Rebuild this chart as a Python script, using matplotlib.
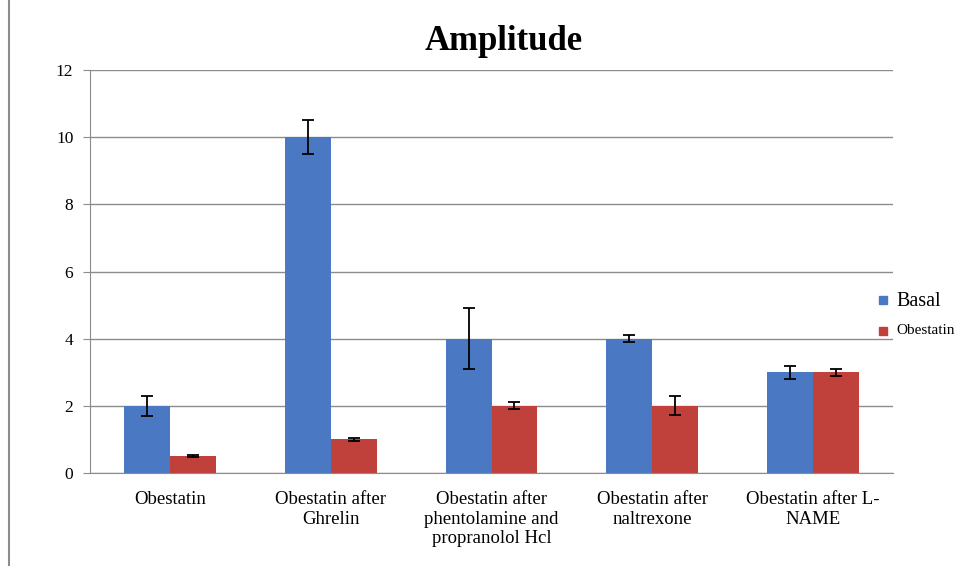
import matplotlib
matplotlib.use('Agg')
import matplotlib.pyplot as plt
import numpy as np
from matplotlib.lines import Line2D

plt.rcParams['font.family'] = ['Liberation Serif', 'DejaVu Serif']

categories = ['Obestatin', 'Obestatin after\nGhrelin',
              'Obestatin after\nphentolamine and\npropranolol Hcl',
              'Obestatin after\nnaltrexone', 'Obestatin after L-\nNAME']
basal = [2, 10, 4, 4, 3]
basal_err = [0.3, 0.5, 0.9, 0.1, 0.2]
obestatin = [0.5, 1, 2, 2, 3]
obestatin_err = [0.03, 0.05, 0.1, 0.28, 0.1]

fig = plt.figure(figsize=(9.74, 5.71), dpi=100)
ax = fig.add_axes([90 / 974, 1 - 473 / 571, 803 / 974, 403 / 571])

x = np.arange(len(categories))
w = 0.286
ax.bar(x - w / 2, basal, w, color='#4a78c2', label='Basal', zorder=2,
       yerr=basal_err, error_kw=dict(ecolor='black', elinewidth=1.3, capsize=4, capthick=1.3))
ax.bar(x + w / 2, obestatin, w, color='#c0403c', label='Obestatin', zorder=2,
       yerr=obestatin_err, error_kw=dict(ecolor='black', elinewidth=1.3, capsize=4, capthick=1.3))

ax.set_xlim(-0.5, len(categories) - 0.5)
ax.set_ylim(0, 12)
ax.set_yticks(range(0, 13, 2))
ax.yaxis.grid(True, color='#8c8c8c', lw=1)
ax.set_axisbelow(True)
ax.set_xticks(x)
ax.set_xticklabels(categories, fontsize=13.5, linespacing=1.2)
ax.tick_params(axis='x', length=0, pad=13)
ax.tick_params(axis='y', labelsize=12.5, color='#8c8c8c', length=5, pad=7)
for s in ['top', 'right']:
    ax.spines[s].set_visible(False)
for s in ['left', 'bottom']:
    ax.spines[s].set_color('#8c8c8c')

fig.text(504 / 974, 1 - 42 / 571, 'Amplitude', ha='center', va='center',
         fontsize=25, fontweight='bold')

# legend outside the plot on the right
fig.text(896 / 974, 1 - 301 / 571, 'Basal', ha='left', va='center', fontsize=14.5)
fig.text(896 / 974, 1 - 330 / 571, 'Obestatin', ha='left', va='center', fontsize=11)
fig.add_artist(Line2D([883 / 974], [1 - 300 / 571], marker='s', markersize=6,
                      color='#4a78c2', lw=0))
fig.add_artist(Line2D([883 / 974], [1 - 331 / 571], marker='s', markersize=6,
                      color='#c0403c', lw=0))

# frame line on the left edge
fig.add_artist(Line2D([9 / 974, 9 / 974], [0.01, 1], color='#8c8c8c', lw=1.5))

fig.savefig('out.png', dpi=100)
